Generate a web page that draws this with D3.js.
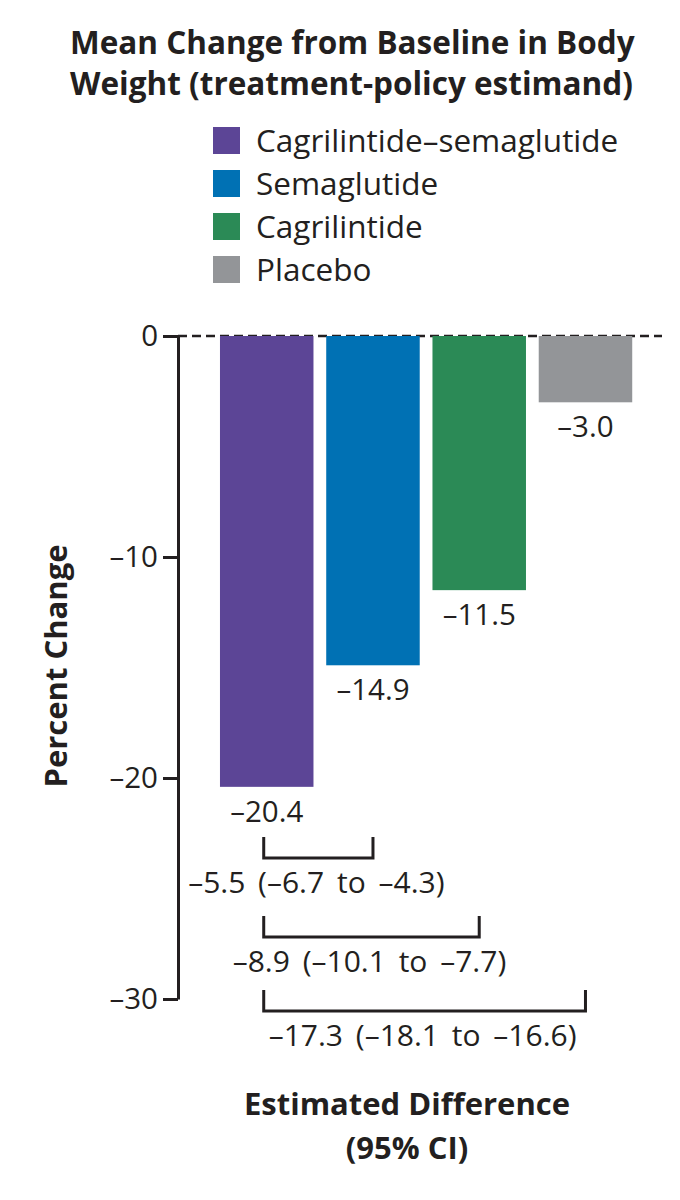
<!DOCTYPE html>
<html>
<head>
<meta charset="utf-8">
<script src="https://cdn.jsdelivr.net/npm/d3@7"></script>
<style>
  body { margin: 0; background: #fff; }
  svg { font-family: "Open Sans", "Noto Sans", sans-serif; }
</style>
</head>
<body>
<div id="chart"></div>
<script>
// chart values
var groups = ["Cagrilintide\u2013semaglutide", "Semaglutide", "Cagrilintide", "Placebo"];
var meanChange = [-20.4, -14.9, -11.5, -3.0];
var colors = ["#5c4596", "#0071b4", "#2b8a56", "#939598"];
var yTicks = [0, -10, -20, -30];

// estimated differences: cagrilintide-semaglutide vs the group in compareTo
var compareTo = ["Semaglutide", "Cagrilintide", "Placebo"];
var diffEst = [-5.5, -8.9, -17.3];
var diffLow = [-6.7, -10.1, -18.1];
var diffHigh = [-4.3, -7.7, -16.6];

var titleLines = ["Mean Change from Baseline in Body", "Weight (treatment-policy estimand)"];
var xTitleLines = ["Estimated Difference", "(95% CI)"];

var W = 680, H = 1200;
var ink = "#231f20";
var fmt = function(v) {
    var s = Math.abs(v).toFixed(1);
    return v < 0 ? "\u2013" + s : s;
};

var svg = d3.select("#chart").append("svg")
    .attr("width", W)
    .attr("height", H);

// title
svg.append("text")
    .attr("x", 70)
    .attr("y", 54)
    .attr("font-size", 31.5)
    .attr("font-weight", 700)
    .attr("fill", ink)
    .selectAll("tspan")
    .data(titleLines)
    .enter().append("tspan")
    .attr("x", 70)
    .attr("dy", function(d, i) { return i ? 41 : 0; })
    .text(function(d) { return d; });

// legend
var legend = svg.append("g").attr("transform", "translate(213,127)");
var item = legend.selectAll("g")
    .data(groups)
    .enter().append("g")
    .attr("transform", function(d, i) { return "translate(0," + (i * 43) + ")"; });
item.append("rect")
    .attr("width", 27)
    .attr("height", 27)
    .attr("fill", function(d, i) { return colors[i]; });
item.append("text")
    .attr("x", 43)
    .attr("y", 25)
    .attr("font-size", 31.5)
    .attr("fill", ink)
    .text(function(d) { return d; });

// scales
var x = d3.scaleBand()
    .domain(groups)
    .range([213.6, 638.6])
    .paddingInner(0.12)
    .paddingOuter(0.06);

var y = d3.scaleLinear()
    .domain([0, -30])
    .range([336, 999]);

// zero line
svg.append("line")
    .attr("x1", 178)
    .attr("x2", 662)
    .attr("y1", y(0))
    .attr("y2", y(0))
    .attr("stroke", ink)
    .attr("stroke-width", 2.5)
    .attr("stroke-dasharray", "9 5");

// bars
svg.selectAll(".bar")
    .data(groups)
    .enter().append("rect")
    .attr("class", "bar")
    .attr("x", function(d) { return x(d); })
    .attr("y", y(0))
    .attr("width", x.bandwidth())
    .attr("height", function(d, i) { return y(meanChange[i]) - y(0); })
    .attr("fill", function(d, i) { return colors[i]; });

// value labels
svg.selectAll(".val")
    .data(groups)
    .enter().append("text")
    .attr("class", "val")
    .attr("x", function(d) { return x(d) + x.bandwidth() / 2; })
    .attr("y", function(d, i) { return y(meanChange[i]) + 35; })
    .attr("text-anchor", "middle")
    .attr("font-size", 29.5)
    .attr("fill", ink)
    .text(function(d, i) { return fmt(meanChange[i]); });

// y axis
var yAxis = d3.axisLeft(y)
    .tickValues(yTicks)
    .tickSize(15)
    .tickSizeOuter(0)
    .tickPadding(5)
    .tickFormat(function(d) { return d < 0 ? "\u2013" + Math.abs(d) : d; });

var gy = svg.append("g")
    .attr("transform", "translate(178,0)")
    .call(yAxis);
gy.select(".domain").attr("stroke", ink).attr("stroke-width", 3);
gy.selectAll(".tick line").attr("stroke", ink).attr("stroke-width", 3);
gy.selectAll(".tick text")
    .attr("font-size", 29.5)
    .attr("font-family", "\"Open Sans\", \"Noto Sans\", sans-serif")
    .attr("fill", ink);

svg.append("text")
    .attr("transform", "translate(67,666) rotate(-90)")
    .attr("text-anchor", "middle")
    .attr("font-size", 31)
    .attr("font-weight", 700)
    .attr("fill", ink)
    .text("Percent Change");

// difference brackets
var bracketTop = [837, 916, 990];
var x0 = x(groups[0]) + x.bandwidth() / 2 - 3;
compareTo.forEach(function(g, i) {
    var x1 = x(g) + x.bandwidth() / 2;
    var t = bracketTop[i], b = t + 21;
    svg.append("path")
        .attr("d", d3.line()([[x0, t], [x0, b], [x1, b], [x1, t]]))
        .attr("fill", "none")
        .attr("stroke", ink)
        .attr("stroke-width", 3);
    svg.append("text")
        .attr("x", (x0 + x1) / 2 - 2)
        .attr("y", b + 35)
        .attr("text-anchor", "middle")
        .attr("font-size", 30)
        .attr("word-spacing", 5)
        .attr("fill", ink)
        .text(fmt(diffEst[i]) + " (" + fmt(diffLow[i]) + " to " + fmt(diffHigh[i]) + ")");
});

// x title
svg.append("text")
    .attr("x", 407)
    .attr("y", 1115)
    .attr("text-anchor", "middle")
    .attr("font-size", 31)
    .attr("font-weight", 700)
    .attr("fill", ink)
    .selectAll("tspan")
    .data(xTitleLines)
    .enter().append("tspan")
    .attr("x", 407)
    .attr("dy", function(d, i) { return i ? 44 : 0; })
    .text(function(d) { return d; });
</script>
</body>
</html>
